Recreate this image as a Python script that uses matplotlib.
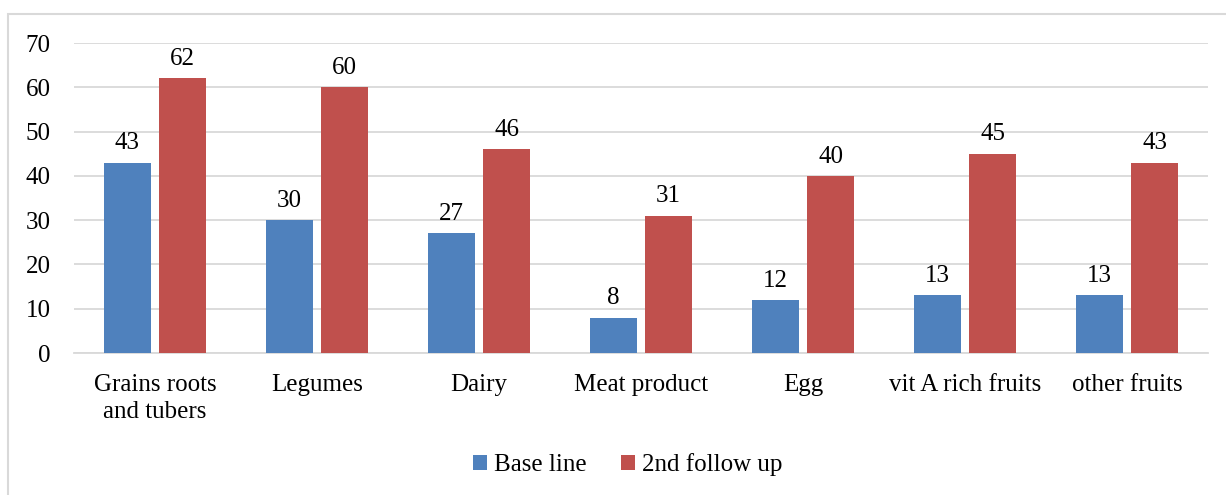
import matplotlib
matplotlib.use("Agg")
import matplotlib.pyplot as plt
import numpy as np
from matplotlib.patches import Rectangle

categories = ["Grains roots\nand tubers", "Legumes", "Dairy", "Meat product", "Egg",
              "vit A rich fruits", "other fruits"]
baseline = [43, 30, 27, 8, 12, 13, 13]
followup = [62, 60, 46, 31, 40, 45, 43]
series_names = ["Base line", "2nd follow up"]
yticks = [0, 10, 20, 30, 40, 50, 60, 70]

plt.rcParams['font.family'] = ['Liberation Serif', 'DejaVu Serif']
FS = 18

fig = plt.figure(figsize=(12.26, 4.95), dpi=100)
fig.patches.append(Rectangle((8/1226, -0.1), 1.2, (495-14)/495 + 0.1, transform=fig.transFigure,
                             fill=False, edgecolor='#D9D9D9', linewidth=1.5))
ax = fig.add_axes([74/1226, 1-353/495, (1208-74)/1226, (353-43)/495])

x = np.arange(len(categories))
w = 0.29
gap = 0.025
b1 = ax.bar(x - w/2 - gap, baseline, w, color='#4F81BD', label=series_names[0], zorder=3)
b2 = ax.bar(x + w/2 + gap, followup, w, color='#C0504D', label=series_names[1], zorder=3)
for bars, vals in ((b1, baseline), (b2, followup)):
    for r, v in zip(bars, vals):
        ax.annotate(str(v), (r.get_x() + r.get_width()/2, v), xytext=(0, 6),
                    textcoords='offset points', ha='center', va='bottom', fontsize=FS)

ax.set_xlim(-0.5, len(categories) - 0.5)
ax.set_ylim(0, 70)
ax.set_yticks(yticks)
ax.set_yticklabels([str(t) for t in yticks], fontsize=FS)
ax.set_xticks(x)
ax.set_xticklabels(categories, fontsize=FS, linespacing=1.3)
ax.yaxis.grid(True, color='#D9D9D9', linewidth=1.3, zorder=0)
ax.set_axisbelow(True)
for s in ('top', 'right', 'left'):
    ax.spines[s].set_visible(False)
ax.spines['bottom'].set_color('#D9D9D9')
ax.spines['bottom'].set_linewidth(1.3)
ax.tick_params(axis='y', length=0, pad=17)
ax.tick_params(axis='x', length=0, pad=15)

leg = fig.legend(handles=[b1, b2], labels=series_names, loc='center', bbox_to_anchor=(628/1226, 1-465/495),
                 ncol=2, frameon=False, fontsize=FS, handlelength=0.55, handleheight=0.55,
                 handletextpad=0.3, columnspacing=1.36)

fig.savefig('out.png', dpi=100)
